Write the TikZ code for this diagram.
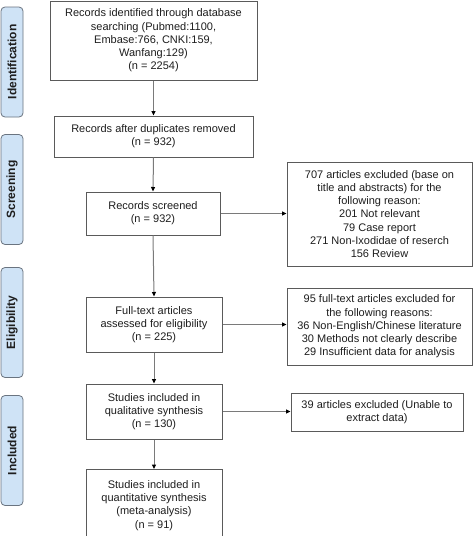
\documentclass[tikz,border=0pt]{standalone}
\usepackage{fontspec}
\setmainfont{Liberation Sans}
\usetikzlibrary{arrows.meta}
\definecolor{boxline}{HTML}{5A5A5A}
\definecolor{arrline}{HTML}{7A7A7A}
\definecolor{sidefill}{HTML}{CFE3F6}
\definecolor{sideline}{HTML}{6A7480}
\definecolor{txt}{HTML}{1E1E1E}
\begin{document}
\begin{tikzpicture}[x=1pt,y=-1pt,
  flowbox/.style={draw=boxline,line width=1pt,fill=white,align=center,text=txt,
    font=\fontsize{11}{13.2}\selectfont,inner sep=0pt},
  sidebox/.style={draw=sideline,line width=0.8pt,fill=sidefill,rounded corners=4pt,
    minimum width=110pt,minimum height=22pt,rotate=90,inner sep=0pt,
    font=\fontsize{12}{14}\selectfont\bfseries,text=txt},
  flowarrow/.style={draw=arrline,line width=1pt,-{Triangle[length=4.5pt,width=4pt,fill=black,color=black]}}]
\useasboundingbox (0,0) rectangle (474,536);
\fill[white] (0,0) rectangle (474,536);
% side labels
\node[sidebox] (sid) at (12,62) {Identification};
\node[sidebox] (sscr) at (12,189.5) {Screening};
\node[sidebox] (selig) at (12,322.5) {Eligibility};
\node[sidebox] (sinc) at (12,450.5) {Included};
% main boxes
\node[flowbox,minimum width=207pt,minimum height=79pt] (ident) at (153.5,40.5)
  {Records identified through database\\searching (Pubmed:1100,\\Embase:766, CNKI:159,\\Wanfang:129)\\(n = 2254)};
\node[flowbox,minimum width=199pt,minimum height=41pt] (dup) at (153.5,136.5)
  {Records after duplicates removed\\(n = 932)};
\node[flowbox,minimum width=134pt,minimum height=43pt] (scr) at (153,213.5)
  {Records screened\\(n = 932)};
\node[flowbox,minimum width=136pt,minimum height=55pt] (full) at (154,324.5)
  {Full-text articles\\assessed for eligibility\\(n = 225)};
\node[flowbox,minimum width=136pt,minimum height=55pt] (qual) at (154,411.5)
  {Studies included in\\qualitative synthesis\\(n = 130)};
\node[flowbox,minimum width=136pt,minimum height=72pt,anchor=north] (quant) at (154,469)
  {Studies included in\\quantitative synthesis\\(meta-analysis)\\(n = 91)};
% exclusion boxes
\node[flowbox,minimum width=185pt,minimum height=104pt] (ex1) at (379.5,214)
  {707 articles excluded (base on\\title and abstracts) for the\\following reason:\\201 Not relevant\\79 Case report\\271 Non-Ixodidae of reserch\\156 Review};
\node[flowbox,minimum width=185pt,minimum height=77pt] (ex2) at (379.5,326.5)
  {95 full-text articles excluded for\\the following reasons:\\36 Non-English/Chinese literature\\30 Methods not clearly describe\\29 Insufficient data for analysis};
\node[flowbox,minimum width=172pt,minimum height=38pt] (ex3) at (377,412)
  {39 articles excluded (Unable to\\extract data)};
% arrows
\draw[flowarrow] (ident.south) -- (dup.north);
\draw[flowarrow] (dup.south) -- (scr.north);
\draw[flowarrow] (scr.south) -- (full.north);
\draw[flowarrow] (full.south) -- (qual.north);
\draw[flowarrow] (qual.south) -- (quant.north);
\draw[flowarrow] (scr.east) -- (ex1.west |- scr.east);
\draw[flowarrow] (full.east) -- (ex2.west |- full.east);
\draw[flowarrow] (qual.east) -- (ex3.west |- qual.east);
\end{tikzpicture}
\end{document}
